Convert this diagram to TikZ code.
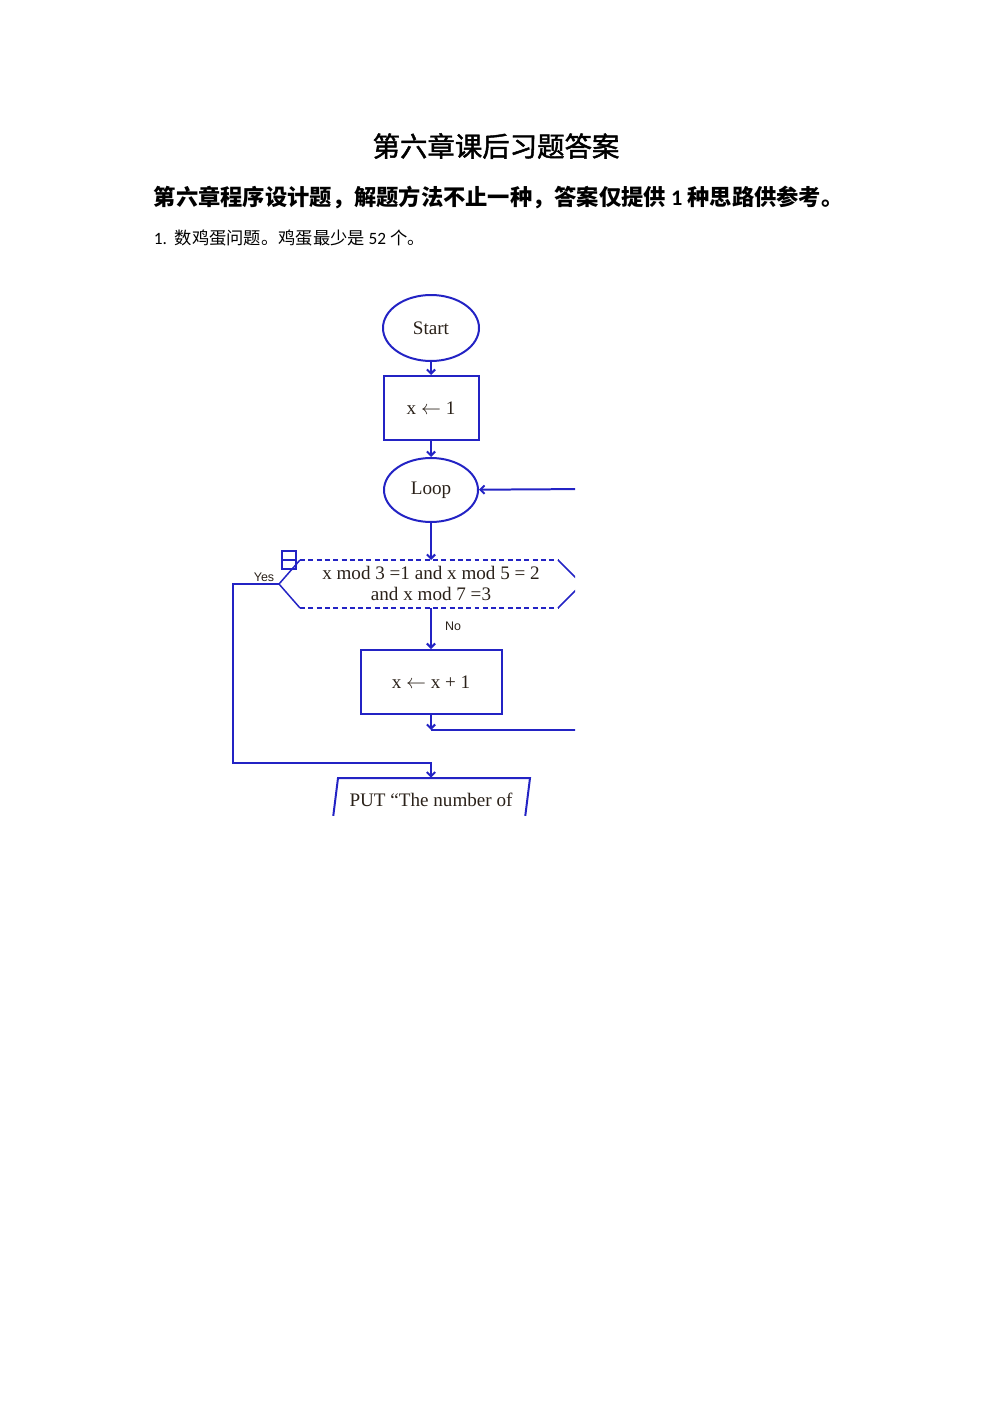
\documentclass[tikz,border=0pt]{standalone}
\usepackage{fontspec}
\setmainfont{Liberation Serif}
\newfontfamily\cjk{Noto Sans CJK SC}
\newfontfamily\cjkhead[FakeBold=1.6]{Noto Sans CJK SC}
\newfontfamily\tagfont{Liberation Sans}
\newfontfamily\numfont{Carlito}
\usetikzlibrary{arrows.meta,shapes.geometric}
\definecolor{FlowBlue}{HTML}{2323C4}
\definecolor{InkBrown}{HTML}{2A2119}

\begin{document}
\begin{tikzpicture}[x=0.02115cm, y=-0.02115cm,
  flowline/.style={FlowBlue, line width=1.2pt},
  arr/.style={flowline, -{Straight Barb[length=2.5pt,width=5pt]}},
  terminal/.style={ellipse, draw=FlowBlue, line width=1.2pt,
    text=InkBrown, font=\fontsize{11.5}{13}\selectfont},
  stepbox/.style={rectangle, draw=FlowBlue, line width=1.2pt,
    text=InkBrown, font=\fontsize{11.5}{13}\selectfont},
  tag/.style={font=\tagfont\fontsize{7.5}{9}\selectfont, text=InkBrown}]
  \def\px{0.02115cm}
  \useasboundingbox (0,0) rectangle (993,1404);

  % Headings
  \node[font=\cjkhead\fontsize{16.5}{18}\selectfont] (title) at (496,146)
    {第六章课后习题答案};
  \node[anchor=west, font=\cjk\bfseries\fontsize{13.4}{16}\selectfont] (intro)
    at (148,198) {第六章程序设计题，解题方法不止一种，答案仅提供 {\numfont\bfseries 1} 种思路供参考。};
  \node[anchor=west, font=\cjk\fontsize{10.4}{12}\selectfont] (task) at (148,238)
    {{\numfont 1.}\ \ 数鸡蛋问题。鸡蛋最少是 {\numfont 52} 个。};

  \begin{scope}
    \clip (220,280) rectangle (575,815);
    % Flowchart nodes
    \node[terminal, minimum width=96*\px, minimum height=66*\px] (start)
      at (431,328) {Start};
    \node[stepbox, minimum width=95*\px, minimum height=64*\px] (init)
      at (431,408) {x $\leftarrow$ 1};
    \node[terminal, minimum width=94*\px, minimum height=64*\px] (loop)
      at (431,490) {Loop};
    \node[align=center, text=InkBrown, font=\fontsize{11.5}{12.6}\selectfont] (cond)
      at (431,583) {x mod 3 =1 and x mod 5 = 2\\and x mod 7 =3};
    \node[stepbox, minimum width=141*\px, minimum height=64*\px] (step)
      at (431,682) {x $\leftarrow$ x + 1};
    \node[text=InkBrown, font=\fontsize{11.5}{13}\selectfont,
      minimum height=44*\px] (put) at (431,800) {PUT “The number of};

    % Decision outline
    \coordinate (condT) at (431,560);
    \coordinate (condB) at (431,608);
    \coordinate (condL) at (279,584);
    \draw[FlowBlue, line width=0.7pt, dash pattern=on 3pt off 2pt]
      (300,560) -- (558,560) (300,608) -- (558,608);
    \draw[flowline, line width=0.9pt] (300,560) -- (condL) -- (300,608);
    \draw[flowline, line width=0.9pt] (558,560) -- (582,584) -- (558,608);
    \draw[FlowBlue, line width=1pt] (282,551) rectangle (296,569);
    \draw[FlowBlue, line width=1pt] (282,560) -- (296,560);

    % Output shape
    \draw[flowline] (333,818) -- (338,778) -- (530,778) -- (525,818);

    % Labels
    \node[tag] (yes) at (264,577) {Yes};
    \node[tag] (no) at (453,626) {No};

    % Connectors
    \coordinate (yesX) at (233,763);
    \coordinate (backJ) at (431,730);
    \coordinate (backR) at (590,730);
    \coordinate (loopR) at (590,489);
    \draw[arr] (start) -- (init);
    \draw[arr] (init) -- (loop);
    \draw[arr] (loop) -- (condT);
    \draw[arr] (condB) -- (step);
    \draw[arr] (condL) -| (yesX) -| (put.north);
    \draw[arr] (step) -- (backJ);
    \draw[flowline] (backJ) -- (backR);
    \draw[arr] (loopR) -- (loop);
  \end{scope}
\end{tikzpicture}
\end{document}
